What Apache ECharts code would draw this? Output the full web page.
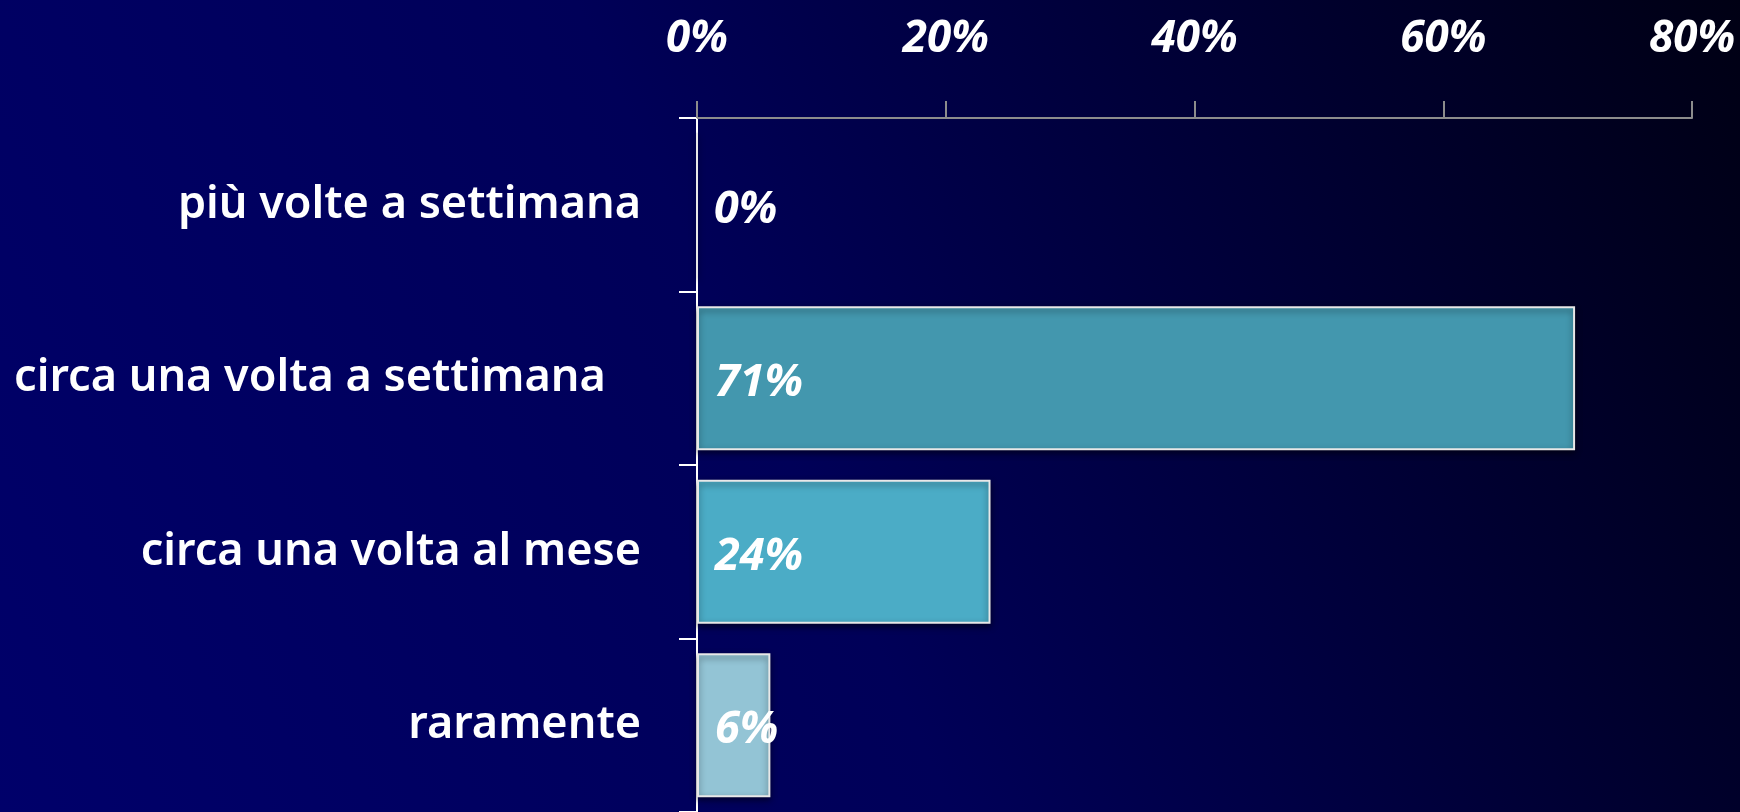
<!DOCTYPE html>
<html>
<head>
<meta charset="utf-8">
<style>
html,body{margin:0;padding:0;background:#000040;}
#chart{width:1740px;height:812px;}
</style>
<script src="https://cdn.jsdelivr.net/npm/echarts@6/dist/echarts.min.js"></script>
</head>
<body>
<div id="chart"></div>
<script>
const categories = ['più volte a settimana', 'circa una volta a settimana\u00a0\u00a0\u00a0', 'circa una volta al mese', 'raramente'];
const values = [0, 70.6, 23.6, 5.9];
const barColors = ['#4397AE', '#4397AE', '#4BACC6', '#93C4D5'];
const xTicks = [0, 20, 40, 60, 80];

const chart = echarts.init(document.getElementById('chart'));
chart.setOption({
  animation: false,
  backgroundColor: {
    type: 'linear', x: 0, y: 1, x2: 1, y2: 0,
    colorStops: [
      { offset: 0, color: '#00006a' },
      { offset: 0.45, color: '#000058' },
      { offset: 1, color: '#000014' }
    ]
  },
  grid: { left: 697, top: 118, width: 995, height: 696, containLabel: false },
  xAxis: {
    type: 'value', position: 'top',
    min: xTicks[0], max: xTicks[xTicks.length - 1], interval: 20,
    axisLine: { show: true, lineStyle: { color: '#8c8c8c', width: 2 } },
    axisTick: { show: true, length: 17, lineStyle: { color: '#8c8c8c', width: 2 } },
    splitLine: { show: false },
    axisLabel: {
      margin: 57, color: '#ffffff', fontFamily: 'Noto Sans', fontWeight: 'bold',
      fontStyle: 'italic', fontSize: 44, formatter: '{value}%'
    }
  },
  yAxis: {
    type: 'category', inverse: true, data: categories,
    axisLine: { show: true, lineStyle: { color: '#ffffff', width: 2 } },
    axisTick: { show: true, length: 18, lineStyle: { color: '#ffffff', width: 2 } },
    axisLabel: {
      margin: 56, color: '#ffffff', fontFamily: 'Noto Sans', fontWeight: 600, fontSize: 45
    }
  },
  series: [{
    type: 'bar',
    barCategoryGap: '17%',
    data: values.map((v, i) => ({ value: v, itemStyle: { color: barColors[i] } })),
    itemStyle: { borderColor: '#e8e8e8', borderWidth: 2, shadowColor: 'rgba(0,0,0,0.5)', shadowBlur: 6, shadowOffsetY: 3 },
    label: {
      show: true, position: 'insideLeft', distance: 18, offset: [0, 5],
      color: '#ffffff', fontFamily: 'Noto Sans', fontWeight: 'bold', fontStyle: 'italic', fontSize: 45,
      formatter: p => Math.round(p.value) + '%'
    }
  }]
});
</script>
</body>
</html>
